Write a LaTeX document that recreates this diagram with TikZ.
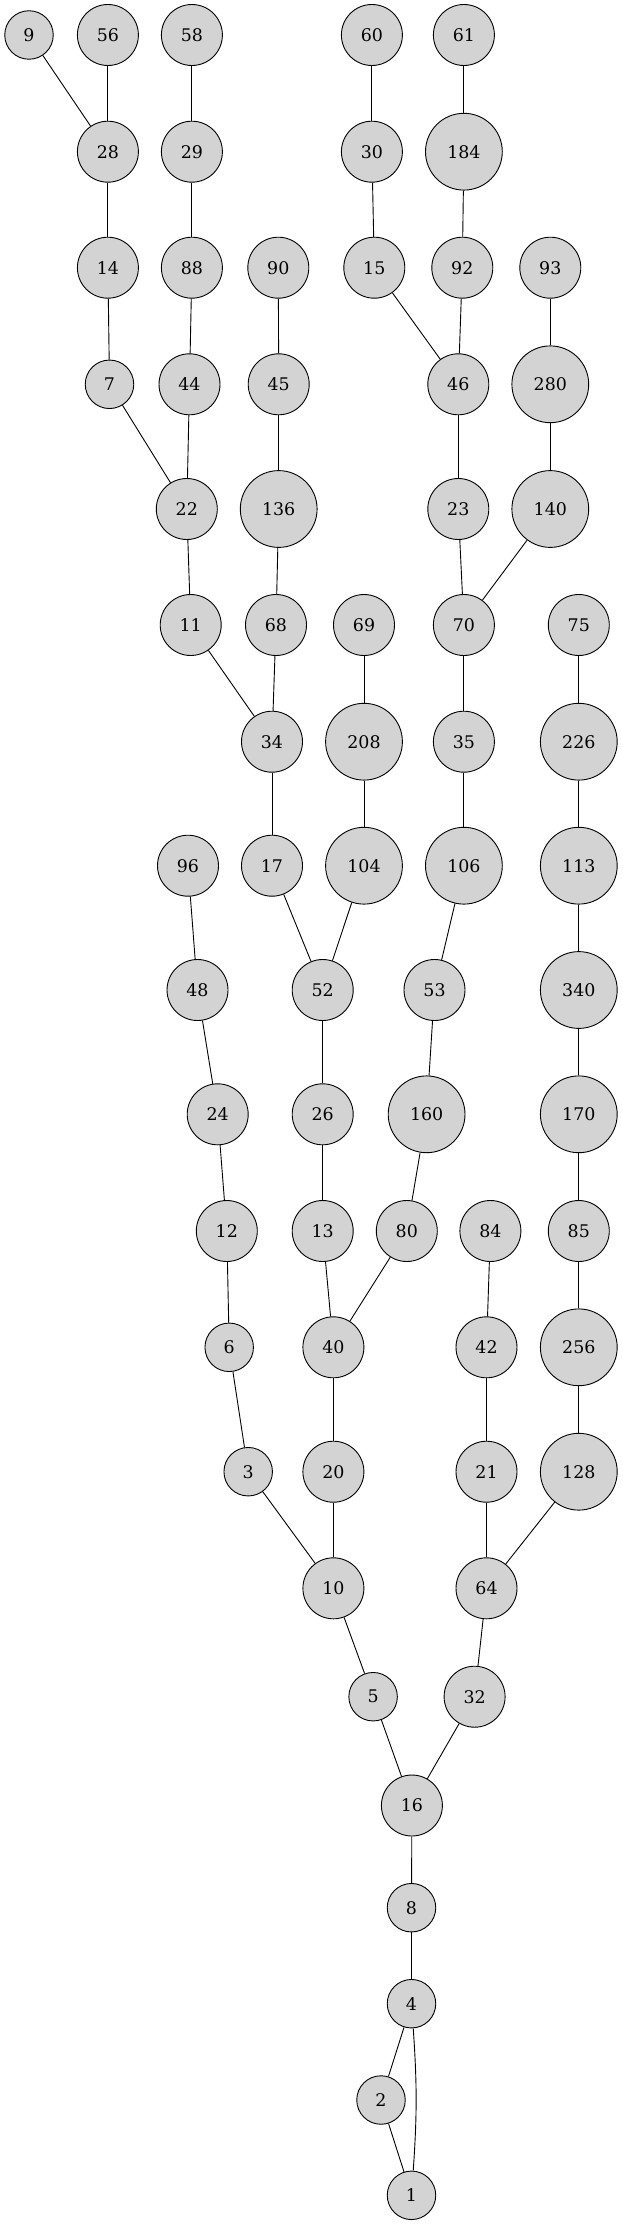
\documentclass[tikz,border=0pt]{standalone}
\usepackage{fontspec}
\setmainfont{DejaVu Serif}
\begin{document}
\begin{tikzpicture}[x=1pt,y=-1pt,
  v/.style={circle,draw=black,fill={rgb,255:red,211;green,211;blue,211},line width=0.9pt,inner sep=0pt,font=\fontsize{17.4}{20}\selectfont},
  v1/.style={v,minimum size=48.5pt},
  v2/.style={v,minimum size=61pt},
  v3/.style={v,minimum size=76.8pt},
  e/.style={draw=black,line width=0.9pt}]
\useasboundingbox (0,0) rectangle (622,2226);
% row 1
\node[v1] (n9)  at (29,35) {9};
\node[v2] (n56) at (107.9,35) {56};
\node[v2] (n58) at (191.9,35) {58};
\node[v2] (n60) at (371.9,35) {60};
\node[v2] (n61) at (463.9,35) {61};
% row 2
\node[v2] (n28)  at (107.9,151.7) {28};
\node[v2] (n29)  at (191.9,151.7) {29};
\node[v2] (n30)  at (371.9,151.7) {30};
\node[v3] (n184) at (463.9,151.7) {184};
% row 3
\node[v2] (n14) at (107.9,267.7) {14};
\node[v2] (n88) at (191.9,267.7) {88};
\node[v2] (n90) at (278.3,267.7) {90};
\node[v2] (n15) at (374.3,267.7) {15};
\node[v2] (n92) at (462.3,267.7) {92};
\node[v2] (n93) at (550.3,267.7) {93};
% row 4
\node[v1] (n7)   at (109.5,384.3) {7};
\node[v2] (n44)  at (189.5,384.3) {44};
\node[v2] (n45)  at (278.7,384.3) {45};
\node[v2] (n46)  at (458.3,384.3) {46};
\node[v3] (n280) at (550.3,384.3) {280};
% row 5
\node[v2] (n22)  at (186.8,509) {22};
\node[v3] (n136) at (278.7,509) {136};
\node[v2] (n23)  at (458.3,509) {23};
\node[v3] (n140) at (550.3,509) {140};
% row 6
\node[v2] (n11) at (190.7,625) {11};
\node[v2] (n68) at (276,625) {68};
\node[v2] (n69) at (364,625) {69};
\node[v2] (n70) at (463.9,625) {70};
\node[v2] (n75) at (578.8,625) {75};
% row 7
\node[v2] (n34)  at (272,741.7) {34};
\node[v3] (n208) at (364,741.7) {208};
\node[v2] (n35)  at (463.9,741.7) {35};
\node[v3] (n226) at (578.8,741.7) {226};
% row 8
\node[v2] (n96)  at (188,865.7) {96};
\node[v2] (n17)  at (272,865.7) {17};
\node[v3] (n104) at (364,865.7) {104};
\node[v3] (n106) at (463.9,865.7) {106};
\node[v3] (n113) at (578.8,865.7) {113};
% row 9
\node[v2] (n48)  at (197.5,990) {48};
\node[v2] (n52)  at (322.7,990) {52};
\node[v2] (n53)  at (434.5,990) {53};
\node[v3] (n340) at (578.8,990) {340};
% row 10
\node[v2] (n24)  at (217.7,1114.3) {24};
\node[v2] (n26)  at (322.7,1114.3) {26};
\node[v3] (n160) at (426.6,1114.3) {160};
\node[v3] (n170) at (578.8,1114.3) {170};
% row 11
\node[v2] (n12) at (226.8,1231) {12};
\node[v2] (n13) at (322.7,1231) {13};
\node[v2] (n80) at (406.8,1231) {80};
\node[v2] (n84) at (490.4,1231) {84};
\node[v2] (n85) at (578.8,1231) {85};
% row 12
\node[v1] (n6)   at (229.2,1347.3) {6};
\node[v2] (n40)  at (333.4,1347.3) {40};
\node[v2] (n42)  at (486.5,1347.3) {42};
\node[v3] (n256) at (578.8,1347.3) {256};
% row 13
\node[v1] (n3)   at (248.2,1471.7) {3};
\node[v2] (n20)  at (333.4,1471.7) {20};
\node[v2] (n21)  at (486.5,1471.7) {21};
\node[v3] (n128) at (578.8,1471.7) {128};
% row 14
\node[v2] (n10) at (333.4,1588.3) {10};
\node[v2] (n64) at (486.5,1588.3) {64};
% row 15
\node[v1] (n5)  at (373.1,1696.7) {5};
\node[v2] (n32) at (474.6,1696.7) {32};
% rest
\node[v2] (n16) at (411.9,1805.5) {16};
\node[v1] (n8)  at (411.5,1907.7) {8};
\node[v1] (n4)  at (411.5,2003.7) {4};
\node[v1] (n2)  at (381,2100) {2};
\node[v1] (n1)  at (411.5,2195.3) {1};
% edges
\foreach \a/\b in {9/28,56/28,58/29,60/30,61/184,28/14,29/88,30/15,184/92,
  14/7,88/44,90/45,15/46,92/46,93/280,7/22,44/22,45/136,46/23,280/140,
  22/11,136/68,23/70,140/70,11/34,68/34,69/208,70/35,75/226,34/17,208/104,
  35/106,226/113,96/48,17/52,104/52,106/53,113/340,48/24,52/26,53/160,
  340/170,24/12,26/13,160/80,170/85,12/6,13/40,80/40,84/42,85/256,6/3,
  40/20,42/21,256/128,3/10,20/10,21/64,128/64,10/5,64/32,5/16,32/16,
  16/8,8/4,4/2,2/1}
  \draw[e] (n\a) -- (n\b);
\draw[e] (n4) to[bend left=4] (n1);
\end{tikzpicture}
\end{document}
